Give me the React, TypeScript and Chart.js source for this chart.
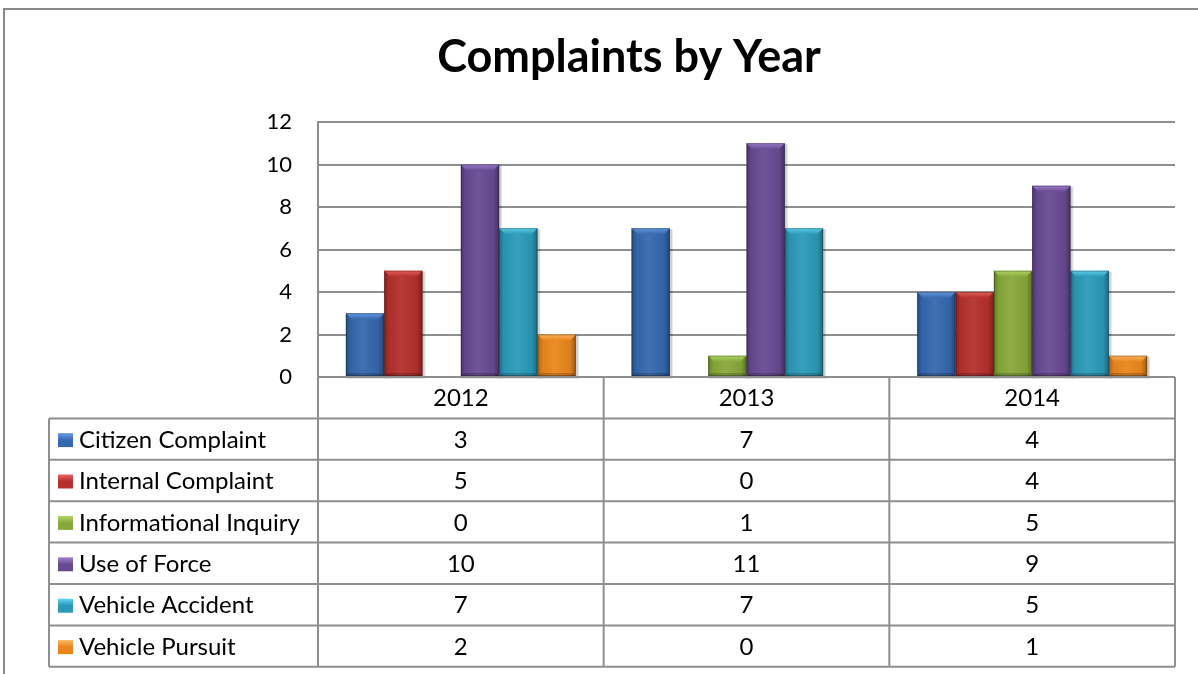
import { useEffect, useRef } from "react";
import { Chart, registerables } from "chart.js";

Chart.register(...registerables);

const years = ["2012", "2013", "2014"];
const seriesNames = [
  "Citizen Complaint",
  "Internal Complaint",
  "Informational Inquiry",
  "Use of Force",
  "Vehicle Accident",
  "Vehicle Pursuit",
];
const citizenComplaint = [3, 7, 4];
const internalComplaint = [5, 0, 4];
const informationalInquiry = [0, 1, 5];
const useOfForce = [10, 11, 9];
const vehicleAccident = [7, 7, 5];
const vehiclePursuit = [2, 0, 1];
const yMin = 0;
const yMax = 12;
const yStep = 2;

const seriesValues = [
  citizenComplaint,
  internalComplaint,
  informationalInquiry,
  useOfForce,
  vehicleAccident,
  vehiclePursuit,
];
const baseColors = ["#3568ad", "#b5302d", "#87a83a", "#684a93", "#2b9ab8", "#ea861c"];
const lightColors = ["#6a9ee6", "#e8625e", "#b4d86a", "#a283d2", "#62d4f0", "#fbb866"];

const GRID = "#8e8e8e";
const FONT = "Lato, 'Open Sans', sans-serif";

const shadowPlugin = {
  id: "barShadow",
  beforeDatasetsDraw(chart: any) {
    const ctx = chart.ctx;
    ctx.save();
    chart.data.datasets.forEach((_: any, di: number) => {
      const meta = chart.getDatasetMeta(di);
      meta.data.forEach((el: any, i: number) => {
        const v = chart.data.datasets[di].data[i];
        if (!v) return;
        const l = el.x - el.width / 2;
        const h = el.base - el.y;
        ctx.fillStyle = "rgba(0,0,0,0.10)";
        ctx.fillRect(l + 1, el.y + 1, el.width + 2, h + 2);
        ctx.fillStyle = "rgba(0,0,0,0.10)";
        ctx.fillRect(l + 1, el.y + 1, el.width + 1, h + 1);
      });
    });
    ctx.restore();
  },
};

const bevelPlugin = {
  id: "barBevel",
  afterDatasetsDraw(chart: any) {
    const ctx = chart.ctx;
    ctx.save();
    chart.data.datasets.forEach((ds: any, di: number) => {
      const meta = chart.getDatasetMeta(di);
      meta.data.forEach((el: any, i: number) => {
        const v = ds.data[i];
        if (!v) return;
        const l = el.x - el.width / 2;
        const r = el.x + el.width / 2;
        const t = el.y;
        const b = el.base;
        const w = el.width;
        const h = b - t;
        const bv = Math.min(6, h / 2);
        const g = ctx.createLinearGradient(l, 0, r, 0);
        g.addColorStop(0, "rgba(0,0,0,0.28)");
        g.addColorStop(0.12, "rgba(0,0,0,0.05)");
        g.addColorStop(0.45, "rgba(255,255,255,0.06)");
        g.addColorStop(0.85, "rgba(0,0,0,0.05)");
        g.addColorStop(1, "rgba(0,0,0,0.32)");
        ctx.fillStyle = g;
        ctx.fillRect(l, t, w, h);
        ctx.beginPath();
        ctx.moveTo(l, t);
        ctx.lineTo(r, t);
        ctx.lineTo(r - bv, t + bv);
        ctx.lineTo(l + bv, t + bv);
        ctx.closePath();
        const tg = ctx.createLinearGradient(0, t, 0, t + bv);
        tg.addColorStop(0, lightColors[di]);
        tg.addColorStop(1, baseColors[di]);
        ctx.fillStyle = tg;
        ctx.globalAlpha = 0.9;
        ctx.fill();
        ctx.globalAlpha = 1;
        const bb = Math.min(3, h / 3);
        ctx.beginPath();
        ctx.moveTo(l, b);
        ctx.lineTo(r, b);
        ctx.lineTo(r - bb, b - bb);
        ctx.lineTo(l + bb, b - bb);
        ctx.closePath();
        ctx.fillStyle = "rgba(0,0,0,0.18)";
        ctx.fill();
        ctx.strokeStyle = "rgba(0,0,0,0.25)";
        ctx.lineWidth = 1;
        ctx.strokeRect(l + 0.5, t + 0.5, w - 1, h - 1);
      });
    });
    ctx.restore();
  },
};

const tablePlugin = {
  id: "dataTable",
  afterDraw(chart: any) {
    const ctx = chart.ctx;
    const { left, right, bottom } = chart.chartArea;
    const xs = chart.scales.x;
    const labels = chart.data.labels as string[];
    const n = labels.length;
    const colW = (right - left) / n;
    const rowH = 41.4;
    const tableLeft = 49;
    const rows = chart.data.datasets.length;
    const tableBottom = bottom + rowH * (rows + 1);
    ctx.save();
    ctx.strokeStyle = GRID;
    ctx.lineWidth = 2;
    ctx.beginPath();
    ctx.moveTo(left, bottom);
    ctx.lineTo(right, bottom);
    for (let r = 1; r <= rows + 1; r++) {
      const y = bottom + rowH * r;
      ctx.moveTo(tableLeft, y);
      ctx.lineTo(right, y);
    }
    ctx.moveTo(tableLeft, bottom + rowH);
    ctx.lineTo(tableLeft, tableBottom);
    for (let c = 0; c <= n; c++) {
      const x = left + colW * c;
      ctx.moveTo(x, bottom);
      ctx.lineTo(x, tableBottom);
    }
    ctx.stroke();

    ctx.fillStyle = "#000";
    ctx.font = `24px ${FONT}`;
    ctx.textBaseline = "middle";
    ctx.textAlign = "center";
    labels.forEach((lab, i) => {
      ctx.fillText(lab, xs.getPixelForValue(i), bottom + rowH / 2 + 1);
    });
    chart.data.datasets.forEach((ds: any, di: number) => {
      const cy = bottom + rowH * (di + 1) + rowH / 2 + 1;
      ctx.textAlign = "center";
      ds.data.forEach((v: number, i: number) => {
        ctx.fillText(String(v), xs.getPixelForValue(i), cy);
      });
      const kx = 58;
      const ky = cy - 7;
      const kg = ctx.createLinearGradient(0, ky, 0, ky + 14);
      kg.addColorStop(0, lightColors[di]);
      kg.addColorStop(0.5, baseColors[di]);
      kg.addColorStop(1, baseColors[di]);
      ctx.fillStyle = kg;
      ctx.fillRect(kx, ky, 15, 14);
      ctx.fillStyle = "#000";
      ctx.textAlign = "left";
      ctx.fillText(ds.label, 79, cy);
    });
    ctx.restore();
  },
};

export default function App() {
  const canvasRef = useRef<HTMLCanvasElement>(null);

  useEffect(() => {
    if (!canvasRef.current) return;
    const chart = new Chart(canvasRef.current, {
      type: "bar",
      data: {
        labels: years,
        datasets: seriesNames.map((name, i) => ({
          label: name,
          data: seriesValues[i],
          backgroundColor: baseColors[i],
          borderWidth: 0,
          categoryPercentage: 0.805,
          barPercentage: 1,
        })),
      },
      options: {
        animation: false,
        responsive: false,
        layout: { padding: { left: 83, right: 83, top: 0, bottom: 297 } },
        plugins: {
          legend: { display: false },
          tooltip: { enabled: false },
          title: {
            display: true,
            text: "Complaints by Year",
            color: "#000",
            font: { family: FONT, size: 45, weight: "bold", lineHeight: 1.2 },
            padding: { top: 30, bottom: 38 },
          },
        },
        scales: {
          x: { display: false },
          y: {
            min: yMin,
            max: yMax,
            ticks: {
              stepSize: yStep,
              color: "#000",
              font: { family: FONT, size: 22 },
              padding: 26,
            },
            grid: { color: GRID, lineWidth: 2, drawTicks: false },
            border: { display: true, color: GRID, width: 2 },
            afterFit: (scale: any) => {
              scale.width = 235;
            },
          },
        },
      },
      plugins: [shadowPlugin, bevelPlugin, tablePlugin],
    });
    return () => chart.destroy();
  }, []);

  return (
    <div
      style={{
        position: "fixed",
        left: 0,
        top: 0,
        width: 1198,
        height: 674,
        overflow: "hidden",
        background: "#fff",
      }}
    >
      <canvas
        ref={canvasRef}
        width={1258}
        height={674}
        style={{ position: "absolute", left: 0, top: 0, width: 1258, height: 674 }}
      />
      <div
        style={{
          position: "absolute",
          left: 3,
          top: 8,
          width: 1300,
          height: 800,
          borderLeft: "2px solid #878787",
          borderTop: "2px solid #878787",
          pointerEvents: "none",
        }}
      />
    </div>
  );
}
